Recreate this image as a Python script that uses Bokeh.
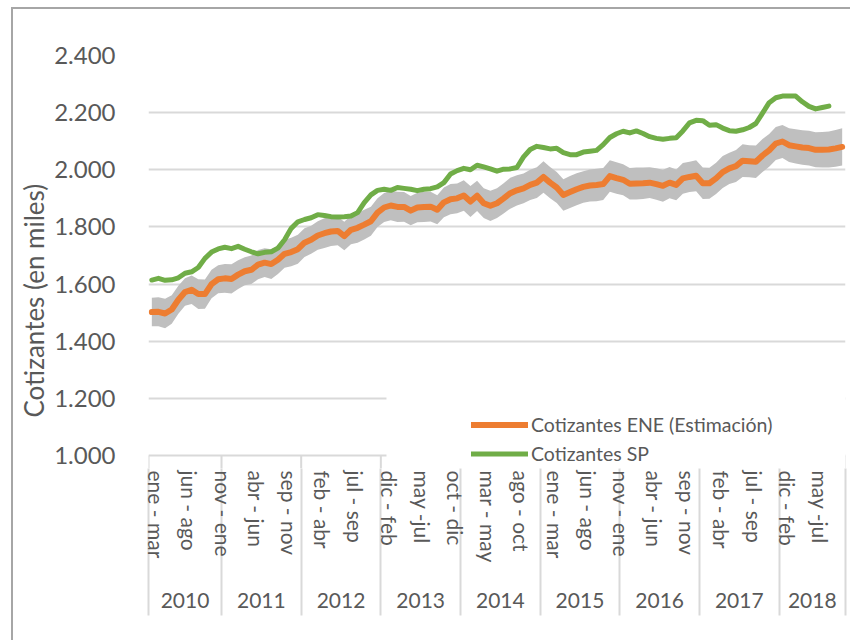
from bokeh.plotting import figure
from bokeh.models import (Range1d, LinearAxis, FixedTicker, Legend, LegendItem,
                          BoxAnnotation, Title)
from bokeh.embed import file_html
from bokeh.resources import INLINE

# ---------------- data ----------------
TICK_LABELS = ["ene - mar", "jun - ago", "nov - ene", "abr - jun", "sep - nov",
               "feb - abr", "jul - sep", "dic - feb", "may -jul", "oct - dic",
               "mar - may", "ago - oct", "ene - mar", "jun - ago", "nov - ene",
               "abr - jun", "sep - nov", "feb - abr", "jul - sep", "dic - feb",
               "may -jul"]
TICK_STEP = 5
YEARS = ["2010", "2011", "2012", "2013", "2014", "2015", "2016", "2017", "2018"]
YEAR_COUNTS = [11, 12, 12, 12, 12, 12, 12, 12, 10]
Y_TICKS = [1000, 1200, 1400, 1600, 1800, 2000, 2200, 2400]

ENE = [1502, 1503, 1497, 1511, 1545, 1572, 1580, 1565, 1565, 1600,
       1617, 1620, 1618, 1633, 1645, 1650, 1668, 1675, 1670, 1685,
       1706, 1712, 1722, 1745, 1755, 1770, 1778, 1784, 1786, 1768,
       1790, 1797, 1808, 1820, 1850, 1868, 1875, 1870, 1870, 1857,
       1868, 1870, 1871, 1860, 1886, 1897, 1900, 1910, 1889, 1909,
       1883, 1874, 1883, 1900, 1918, 1928, 1935, 1947, 1955, 1975,
       1955, 1938, 1912, 1922, 1932, 1940, 1945, 1947, 1950, 1978,
       1971, 1965, 1951, 1952, 1953, 1955, 1950, 1944, 1955, 1947,
       1970, 1975, 1979, 1953, 1953, 1970, 1992, 2005, 2013, 2032,
       2030, 2028, 2050, 2068, 2092, 2099, 2086, 2082, 2078, 2076,
       2070, 2070, 2071, 2075, 2080]
ENE_MARGIN = [50, 51, 52, 50, 49, 48, 50, 52, 51, 50,
              49, 50, 51, 50, 49, 50, 51, 50, 52, 50,
              49, 50, 51, 50, 49, 50, 52, 51, 50, 50,
              51, 52, 52, 51, 50, 51, 52, 53, 52, 51,
              52, 53, 52, 51, 52, 53, 52, 53, 54, 53,
              52, 53, 52, 53, 54, 53, 52, 53, 54, 55,
              55, 54, 55, 56, 56, 55, 56, 57, 56, 55,
              55, 54, 55, 56, 55, 54, 55, 56, 55, 54,
              54, 53, 54, 55, 54, 55, 56, 55, 56, 57,
              56, 57, 58, 57, 58, 58, 59, 60, 60, 61,
              61, 62, 63, 64, 65]
SP = [1614, 1620, 1613, 1615, 1622, 1638, 1643, 1658, 1690, 1712,
      1723, 1729, 1724, 1732, 1722, 1713, 1706, 1711, 1713, 1726,
      1755, 1795, 1818, 1826, 1832, 1843, 1840, 1836, 1835, 1836,
      1838, 1850, 1885, 1912, 1928, 1932, 1928, 1938, 1935, 1932,
      1927, 1932, 1934, 1940, 1955, 1985, 1997, 2005, 2000, 2016,
      2010, 2003, 1995, 2002, 2003, 2008, 2045, 2071, 2082, 2078,
      2073, 2075, 2060, 2053, 2053, 2062, 2065, 2068, 2088, 2113,
      2126, 2135, 2129, 2136, 2127, 2116, 2110, 2107, 2110, 2112,
      2136, 2164, 2173, 2172, 2156, 2158, 2146, 2137, 2135, 2140,
      2148, 2162, 2198, 2235, 2252, 2258, 2258, 2258, 2238, 2222,
      2213, 2218, 2223]

# ---------------- styles ----------------
FONT = "Lato"
TXT = "#595959"
GRID = "#D9D9D9"
ORANGE = "#ED7D31"
GREEN = "#70AD47"
BAND = "#BFBFBF"

n = len(ENE)
x_ene = list(range(n))
x_sp = list(range(len(SP)))
lo = [v - m for v, m in zip(ENE, ENE_MARGIN)]
hi = [v + m for v, m in zip(ENE, ENE_MARGIN)]

# the plot frame reaches 13 px below the 1.000 line so the legend fits inside it
PX_PER_UNIT = 400 / (Y_TICKS[-1] - Y_TICKS[0])
y_start = Y_TICKS[0] - 13 / PX_PER_UNIT

p = figure(width=839, height=633, output_backend="svg", toolbar_location=None,
           x_range=Range1d(-0.5, n - 0.5), y_range=Range1d(y_start, Y_TICKS[-1]),
           x_axis_location=None, y_axis_location="left",
           min_border_left=132, min_border_right=7, min_border_top=46,
           min_border_bottom=174)
p.outline_line_color = None
p.background_fill_color = "white"
p.border_fill_color = "white"
p.styles = {"margin-left": "11px", "margin-top": "7px",
            "border-left": "2px solid #A6A6A6", "border-top": "2px solid #A6A6A6"}

# grid
p.xgrid.visible = False
p.ygrid.ticker = FixedTicker(ticks=Y_TICKS)
p.ygrid.grid_line_color = GRID
p.ygrid.grid_line_width = 2

# y axis
ya = p.yaxis[0]
ya.ticker = FixedTicker(ticks=Y_TICKS)
ya.major_label_overrides = {t: f"{t:,}".replace(",", ".") for t in Y_TICKS}
ya.axis_line_color = None
ya.major_tick_line_color = None
ya.minor_tick_line_color = None
ya.major_label_text_font = FONT
ya.major_label_text_font_size = "24px"
ya.major_label_text_color = TXT
ya.major_label_standoff = 27

# year group boundaries and centres
bounds = [-0.5]
for c in YEAR_COUNTS:
    bounds.append(bounds[-1] + c)
centers = [(a + b) / 2 for a, b in zip(bounds[:-1], bounds[1:])]

# separators between year groups, part inside the frame (below the 1.000 line)
p.segment(x0=bounds, y0=[Y_TICKS[0]] * len(bounds), x1=bounds, y1=[y_start] * len(bounds),
          line_color=GRID, line_width=2)

# series
p.varea(x=x_ene, y1=lo, y2=hi, fill_color=BAND)
r_ene = p.line(x_ene, ENE, line_color=ORANGE, line_width=6, line_join="round", line_cap="round")
r_sp = p.line(x_sp, SP, line_color=GREEN, line_width=5, line_join="round", line_cap="round")

# x axes: month ticks + year groups
LABEL_NUDGE = 0.75  # optical centring of the rotated labels on their category
ticks = [i + LABEL_NUDGE for i in range(0, n, TICK_STEP)]
SEP_LEN = 147
month_axis = LinearAxis(
    ticker=FixedTicker(ticks=ticks, minor_ticks=bounds),
    major_label_overrides={t: lab for t, lab in zip(ticks, TICK_LABELS)},
    major_label_orientation="vertical",
    major_tick_line_color=None, major_tick_in=0, major_tick_out=0,
    minor_tick_line_color=GRID, minor_tick_line_width=2,
    minor_tick_in=0, minor_tick_out=SEP_LEN,
    axis_line_color=None,
    major_label_standoff=2 - SEP_LEN,
    major_label_text_font=FONT, major_label_text_font_size="21px",
    major_label_text_color=TXT)
p.add_layout(month_axis, "below")

year_axis = LinearAxis(
    ticker=FixedTicker(ticks=centers),
    major_label_overrides={c: y for c, y in zip(centers, YEARS)},
    axis_line_color=None, major_tick_line_color=None, minor_tick_line_color=None,
    major_label_standoff=21,
    major_label_text_font=FONT, major_label_text_font_size="21px",
    major_label_text_color=TXT)
p.add_layout(year_axis, "below")

# white legend box (hides grid lines behind the legend)
mask = BoxAnnotation(left=35.35, right=n - 0.5, top=1220, bottom=y_start,
                     fill_color="white", fill_alpha=1.0, line_alpha=0)
p.add_layout(mask)

legend = Legend(items=[LegendItem(label="Cotizantes ENE (Estimación)", renderers=[r_ene]),
                       LegendItem(label="Cotizantes SP", renderers=[r_sp])],
                location=(323, 3), orientation="vertical",
                background_fill_alpha=0, border_line_color=None,
                glyph_width=57, glyph_height=23, label_height=23,
                label_standoff=3, spacing=6, padding=0, margin=0,
                label_text_font=FONT, label_text_font_size="19.5px",
                label_text_color=TXT)
p.add_layout(legend)

# y axis title
p.add_layout(Title(text="Cotizantes (en miles)", align="left", offset=51,
                   standoff=4, text_font=FONT, text_font_size="26px",
                   text_font_style="normal", text_color=TXT), "left")

open("out.html", "w").write(file_html(p, INLINE))
